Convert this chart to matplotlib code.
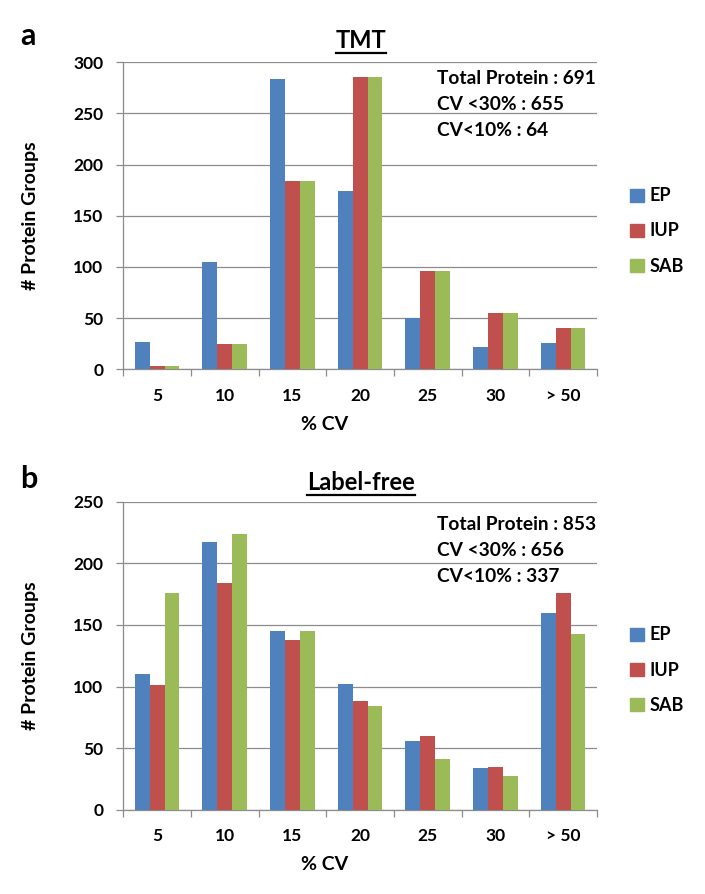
import matplotlib
matplotlib.use("Agg")
import matplotlib.pyplot as plt
from matplotlib.lines import Line2D
from matplotlib.patches import Patch
import numpy as np

plt.rcParams['font.family'] = ['Lato', 'DejaVu Sans']
plt.rcParams['font.weight'] = 'bold'

categories = ["5", "10", "15", "20", "25", "30", "> 50"]
series = ["EP", "IUP", "SAB"]
colors = ["#4F81BD", "#C0504D", "#9BBB59"]

tmt_ep = [27, 105, 284, 174, 50, 22, 26]
tmt_iup = [3, 25, 184, 286, 96, 55, 40]
tmt_sab = [3, 25, 184, 286, 96, 55, 40]

lf_ep = [110, 217, 145, 102, 56, 34, 160]
lf_iup = [101, 184, 138, 88, 60, 35, 176]
lf_sab = [176, 224, 145, 84, 41, 27, 143]

tmt_notes = ["Total Protein : 691", "CV <30% : 655", "CV<10% : 64"]
lf_notes = ["Total Protein : 853", "CV <30% : 656", "CV<10% : 337"]

W, H = 705, 894
fig = plt.figure(figsize=(W / 100, H / 100), dpi=100)

grid_c = "#8c8c8c"


def px_rect(l, t, r, b):
    return [l / W, 1 - b / H, (r - l) / W, (b - t) / H]


def draw(ax, data, ymax, ystep, notes, note_y, title, title_y, letter, letter_y,
         cv_y, leg_y):
    n = len(categories)
    x = np.arange(n)
    bw = 0.22
    for k, (vals, c, name) in enumerate(zip(data, colors, series)):
        ax.bar(x + (k - 1) * bw, vals, bw, color=c, label=name, zorder=3)
    ax.set_xlim(-0.5, n - 0.5)
    ax.set_ylim(0, ymax)
    ax.set_yticks(np.arange(0, ymax + 1, ystep))
    ax.yaxis.grid(True, color=grid_c, linewidth=0.9, zorder=0)
    for s in ["top", "right"]:
        ax.spines[s].set_visible(False)
    for s in ["left", "bottom"]:
        ax.spines[s].set_color(grid_c)
        ax.spines[s].set_linewidth(0.9)
    ax.set_xticks(np.arange(-0.5, n, 1.0))
    ax.set_xticklabels([])
    ax.set_xticks(x, minor=True)
    ax.set_xticklabels(categories, minor=True)
    ax.tick_params(axis="x", which="major", length=5, color=grid_c, width=0.9)
    ax.tick_params(axis="x", which="minor", length=0, pad=13.5, labelsize=12.5)
    ax.tick_params(axis="y", length=5, color=grid_c, width=0.9, pad=9.5,
                   labelsize=12.5)
    for lab in ax.get_xticklabels(minor=True) + ax.get_yticklabels():
        lab.set_fontweight("bold")
    ax.set_ylabel("# Protein Groups", fontsize=14, fontweight="bold")
    ax.yaxis.set_label_coords(-0.178, 0.5)
    for txt, yy in zip(notes, note_y):
        fig.text(437 / W, 1 - yy / H, txt, fontsize=13.8, fontweight="bold",
                 ha="left", va="center")
    t = fig.text(361 / W, 1 - title_y / H, title, fontsize=17,
                 fontweight="bold", ha="center", va="center")
    fig.text(20 / W, 1 - letter_y / H, letter, fontsize=22, fontweight="bold",
             ha="left", va="baseline")
    fig.text(325 / W, 1 - cv_y / H, "% CV", fontsize=14, fontweight="bold",
             ha="center", va="center")
    handles = [Patch(color=c, label=s) for c, s in zip(colors, series)]
    fig.legend(handles=handles, loc="center left",
               bbox_to_anchor=(621 / W, 1 - leg_y / H), frameon=False,
               handlelength=0.75, handleheight=0.75,
               handletextpad=0.35, labelspacing=1.0, borderpad=0,
               prop={"weight": "bold", "size": 13})
    return t


ax1 = fig.add_axes(px_rect(123.3, 62.3, 597, 369.3))
t1 = draw(ax1, [tmt_ep, tmt_iup, tmt_sab], 300, 50, tmt_notes, [78, 104, 130],
          "TMT", 40, "a", 45, 424, 231)
ax2 = fig.add_axes(px_rect(123.3, 501.7, 597, 809.7))
t2 = draw(ax2, [lf_ep, lf_iup, lf_sab], 250, 50, lf_notes, [525, 551, 577],
          "Label-free", 482, "b", 488, 865, 670)

fig.canvas.draw()
r = fig.canvas.get_renderer()
for t in (t1, t2):
    bb = t.get_window_extent(r)
    yline = bb.y0 - 1
    fig.add_artist(Line2D([bb.x0 / W, bb.x1 / W], [yline / H, yline / H],
                          transform=fig.transFigure, color="black",
                          linewidth=1.6))

fig.savefig("out.png", dpi=100)
